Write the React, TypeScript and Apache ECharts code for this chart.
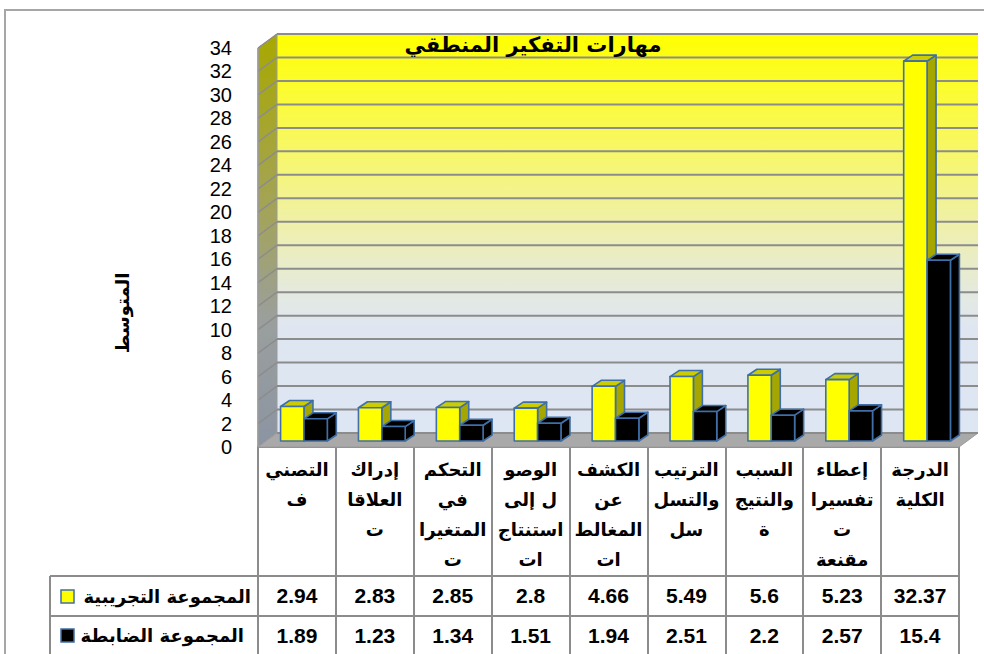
import React, { useEffect, useRef } from "react";
import * as echarts from "echarts";

const title = "مهارات التفكير المنطقي";
const yAxisTitle = "المتوسط";
const seriesNames = ["المجموعة التجريبية", "المجموعة الضابطة"];
const categories = [
  "التصني\nف",
  "إدراك\nالعلاقا\nت",
  "التحكم\nفي\nالمتغيرا\nت",
  "الوصو\nل إلى\nاستنتاج\nات",
  "الكشف\nعن\nالمغالط\nات",
  "الترتيب\nوالتسل\nسل",
  "السبب\nوالنتيج\nة",
  "إعطاء\nتفسيرا\nت\nمقنعة",
  "الدرجة\nالكلية",
];
const experimental = [2.94, 2.83, 2.85, 2.8, 4.66, 5.49, 5.6, 5.23, 32.37];
const control = [1.89, 1.23, 1.34, 1.51, 1.94, 2.51, 2.2, 2.57, 15.4];
const yTicks = [0, 2, 4, 6, 8, 10, 12, 14, 16, 18, 20, 22, 24, 26, 28, 30, 32, 34];

const Y_MAX = 34;
const WALL_DX = 19;
const WALL_DY = -14;
const BAR_SHIFT_X = 7;
const BAR_SHIFT_Y = -6;
const BAR_DEPTH_X = 9;
const BAR_DEPTH_Y = -6;
const EDGE = "#3f6fa6";
const GRID_LINE = "#8c8c8c";
const ARABIC = "'DejaVu Sans', sans-serif";
const NUM = "'Liberation Sans', Arial, sans-serif";

function wallsRender(params: any, api: any) {
  const bw = api.size([1, 0])[0];
  const p0 = api.coord([0, 0]);
  const L = p0[0] - bw / 2;
  const R = L + bw * categories.length;
  const B = p0[1];
  const T = api.coord([0, Y_MAX])[1];
  const children: any[] = [];
  children.push({
    type: "polygon",
    shape: { points: [[L + WALL_DX, T + WALL_DY], [R + WALL_DX, T + WALL_DY], [R + WALL_DX, B + WALL_DY], [L + WALL_DX, B + WALL_DY]] },
    style: {
      fill: new echarts.graphic.LinearGradient(0, 0, 0, 1, [
        { offset: 0, color: "#ffff00" },
        { offset: 0.3, color: "#f7f76a" },
        { offset: 0.5, color: "#eeefb2" },
        { offset: 0.66, color: "#e3e9e2" },
        { offset: 0.74, color: "#dfe6f2" },
        { offset: 1, color: "#dde6f3" },
      ]),
    },
  });
  children.push({
    type: "polygon",
    shape: { points: [[L, T], [L + WALL_DX, T + WALL_DY], [L + WALL_DX, B + WALL_DY], [L, B]] },
    style: {
      fill: new echarts.graphic.LinearGradient(0, 0, 0, 1, [
        { offset: 0, color: "#a8a800" },
        { offset: 0.45, color: "#a3a35e" },
        { offset: 0.7, color: "#9a9f9e" },
        { offset: 1, color: "#8b94a3" },
      ]),
      stroke: "#9a9a9a",
      lineWidth: 1,
    },
  });
  children.push({
    type: "polygon",
    shape: { points: [[L, B], [R, B], [R + WALL_DX, B + WALL_DY], [L + WALL_DX, B + WALL_DY]] },
    style: { fill: "#a9a9a9", stroke: "#9a9a9a", lineWidth: 1 },
  });
  yTicks.forEach((v) => {
    const y = api.coord([0, v])[1];
    children.push({
      type: "line",
      shape: { x1: L + WALL_DX, y1: y + WALL_DY, x2: R + WALL_DX, y2: y + WALL_DY },
      style: { stroke: GRID_LINE, lineWidth: 2 },
    });
    if (v > 0) {
      children.push({
        type: "line",
        shape: { x1: L, y1: y, x2: L + WALL_DX, y2: y + WALL_DY },
        style: { stroke: GRID_LINE, lineWidth: 1.5 },
      });
    }
  });
  children.push({
    type: "line",
    shape: { x1: L, y1: T, x2: L, y2: B },
    style: { stroke: "#9a9a9a", lineWidth: 1.5 },
  });
  return { type: "group", children };
}

function makeBarRender(slot: number, front: string, side: string, top: string) {
  return (params: any, api: any) => {
    const cat = api.value(0);
    const val = api.value(1);
    const base = api.coord([cat, 0]);
    const tp = api.coord([cat, val]);
    const bw = api.size([1, 0])[0];
    const w = bw * 0.3;
    const x0 = base[0] + slot * w + BAR_SHIFT_X;
    const x1 = x0 + w;
    const yb = base[1] + BAR_SHIFT_Y;
    const yt = tp[1] + BAR_SHIFT_Y;
    const st = { stroke: EDGE, lineWidth: 1.6, lineJoin: "round" };
    return {
      type: "group",
      children: [
        {
          type: "polygon",
          shape: { points: [[x1, yt], [x1 + BAR_DEPTH_X, yt + BAR_DEPTH_Y], [x1 + BAR_DEPTH_X, yb + BAR_DEPTH_Y], [x1, yb]] },
          style: { fill: side, ...st },
        },
        {
          type: "polygon",
          shape: { points: [[x0, yt], [x0 + BAR_DEPTH_X, yt + BAR_DEPTH_Y], [x1 + BAR_DEPTH_X, yt + BAR_DEPTH_Y], [x1, yt]] },
          style: { fill: top, ...st },
        },
        {
          type: "rect",
          shape: { x: x0, y: yt, width: w, height: yb - yt },
          style: { fill: front, ...st },
        },
      ],
    };
  };
}

export default function App() {
  const ref = useRef<HTMLDivElement>(null);
  useEffect(() => {
    if (!ref.current) return;
    const chart = echarts.init(ref.current, undefined, { renderer: "svg" });
    const tableLine = { color: GRID_LINE, width: 2 };
    chart.setOption({
      animation: false,
      backgroundColor: "#ffffff",
      grid: { left: 258, right: 25, top: 48, bottom: 207, containLabel: false },
      xAxis: [
        {
          type: "category",
          data: categories,
          position: "bottom",
          axisLine: { show: true, lineStyle: tableLine },
          axisTick: { show: true, length: 215, lineStyle: tableLine },
          axisLabel: {
            interval: 0,
            color: "#000",
            fontFamily: ARABIC,
            fontWeight: "bold",
            fontSize: 18,
            lineHeight: 30,
            margin: 7,
          },
          splitLine: { show: false },
        },
        {
          type: "category",
          data: experimental.map(String),
          position: "bottom",
          offset: 129,
          axisLine: { show: true, lineStyle: tableLine },
          axisTick: { show: false },
          axisLabel: { interval: 0, color: "#000", fontFamily: NUM, fontWeight: "bold", fontSize: 21, margin: 9 },
        },
        {
          type: "category",
          data: control.map(String),
          position: "bottom",
          offset: 169,
          axisLine: { show: true, lineStyle: tableLine },
          axisTick: { show: false },
          axisLabel: { interval: 0, color: "#000", fontFamily: NUM, fontWeight: "bold", fontSize: 21, margin: 9 },
        },
      ],
      yAxis: {
        type: "value",
        min: 0,
        max: Y_MAX,
        interval: 2,
        axisLine: { show: false },
        axisTick: { show: false },
        splitLine: { show: false },
        axisLabel: { color: "#000", fontSize: 20, lineHeight: 21, fontFamily: NUM, margin: 26 },
      },
      series: [
        {
          type: "custom",
          name: "walls",
          xAxisIndex: 0,
          z: 1,
          silent: true,
          clip: false,
          data: [[0, 0]],
          renderItem: wallsRender,
        },
        {
          type: "custom",
          name: seriesNames[0],
          xAxisIndex: 0,
          z: 2,
          silent: true,
          clip: false,
          data: experimental.map((v, i) => [i, v]),
          renderItem: makeBarRender(-1, "#ffff00", "#a6a600", "#cccc00"),
        },
        {
          type: "custom",
          name: seriesNames[1],
          xAxisIndex: 0,
          z: 3,
          silent: true,
          clip: false,
          data: control.map((v, i) => [i, v]),
          renderItem: makeBarRender(0, "#000000", "#000000", "#000000"),
        },
      ],
      graphic: [
        {
          type: "rect",
          shape: { x: 5, y: 10, width: 1000, height: 700 },
          style: { fill: "none", stroke: "#a6a6a6", lineWidth: 2 },
          z: 0,
        },
        {
          type: "text",
          x: 533,
          y: 45,
          z: 10,
          style: {
            text: title,
            textAlign: "center",
            textVerticalAlign: "middle",
            font: `bold 21px ${ARABIC}`,
            fill: "#000",
          },
        },
        {
          type: "text",
          x: 122,
          y: 313,
          rotation: Math.PI / 2,
          style: {
            text: yAxisTitle,
            textAlign: "center",
            textVerticalAlign: "middle",
            font: `bold 18px ${ARABIC}`,
            fill: "#000",
          },
        },
        { type: "line", shape: { x1: 50, y1: 576, x2: 258, y2: 576 }, style: { stroke: GRID_LINE, lineWidth: 2 } },
        { type: "line", shape: { x1: 50, y1: 616, x2: 258, y2: 616 }, style: { stroke: GRID_LINE, lineWidth: 2 } },
        { type: "line", shape: { x1: 50, y1: 576, x2: 50, y2: 660 }, style: { stroke: GRID_LINE, lineWidth: 2 } },
        { type: "rect", shape: { x: 61, y: 590, width: 13, height: 13 }, style: { fill: "#ffff00", stroke: EDGE, lineWidth: 1.5 } },
        { type: "rect", shape: { x: 61, y: 629, width: 13, height: 13 }, style: { fill: "#000000", stroke: EDGE, lineWidth: 1.5 } },
        {
          type: "text",
          x: 251,
          y: 596,
          style: { text: seriesNames[0], textAlign: "right", textVerticalAlign: "middle", font: `bold 18px ${ARABIC}`, fill: "#000" },
        },
        {
          type: "text",
          x: 244,
          y: 635,
          style: { text: seriesNames[1], textAlign: "right", textVerticalAlign: "middle", font: `bold 18px ${ARABIC}`, fill: "#000" },
        },
      ],
    });
    return () => chart.dispose();
  }, []);
  return (
    <div
      ref={ref}
      style={{ position: "fixed", left: 0, top: 0, width: 984, height: 654, background: "#fff" }}
    />
  );
}
